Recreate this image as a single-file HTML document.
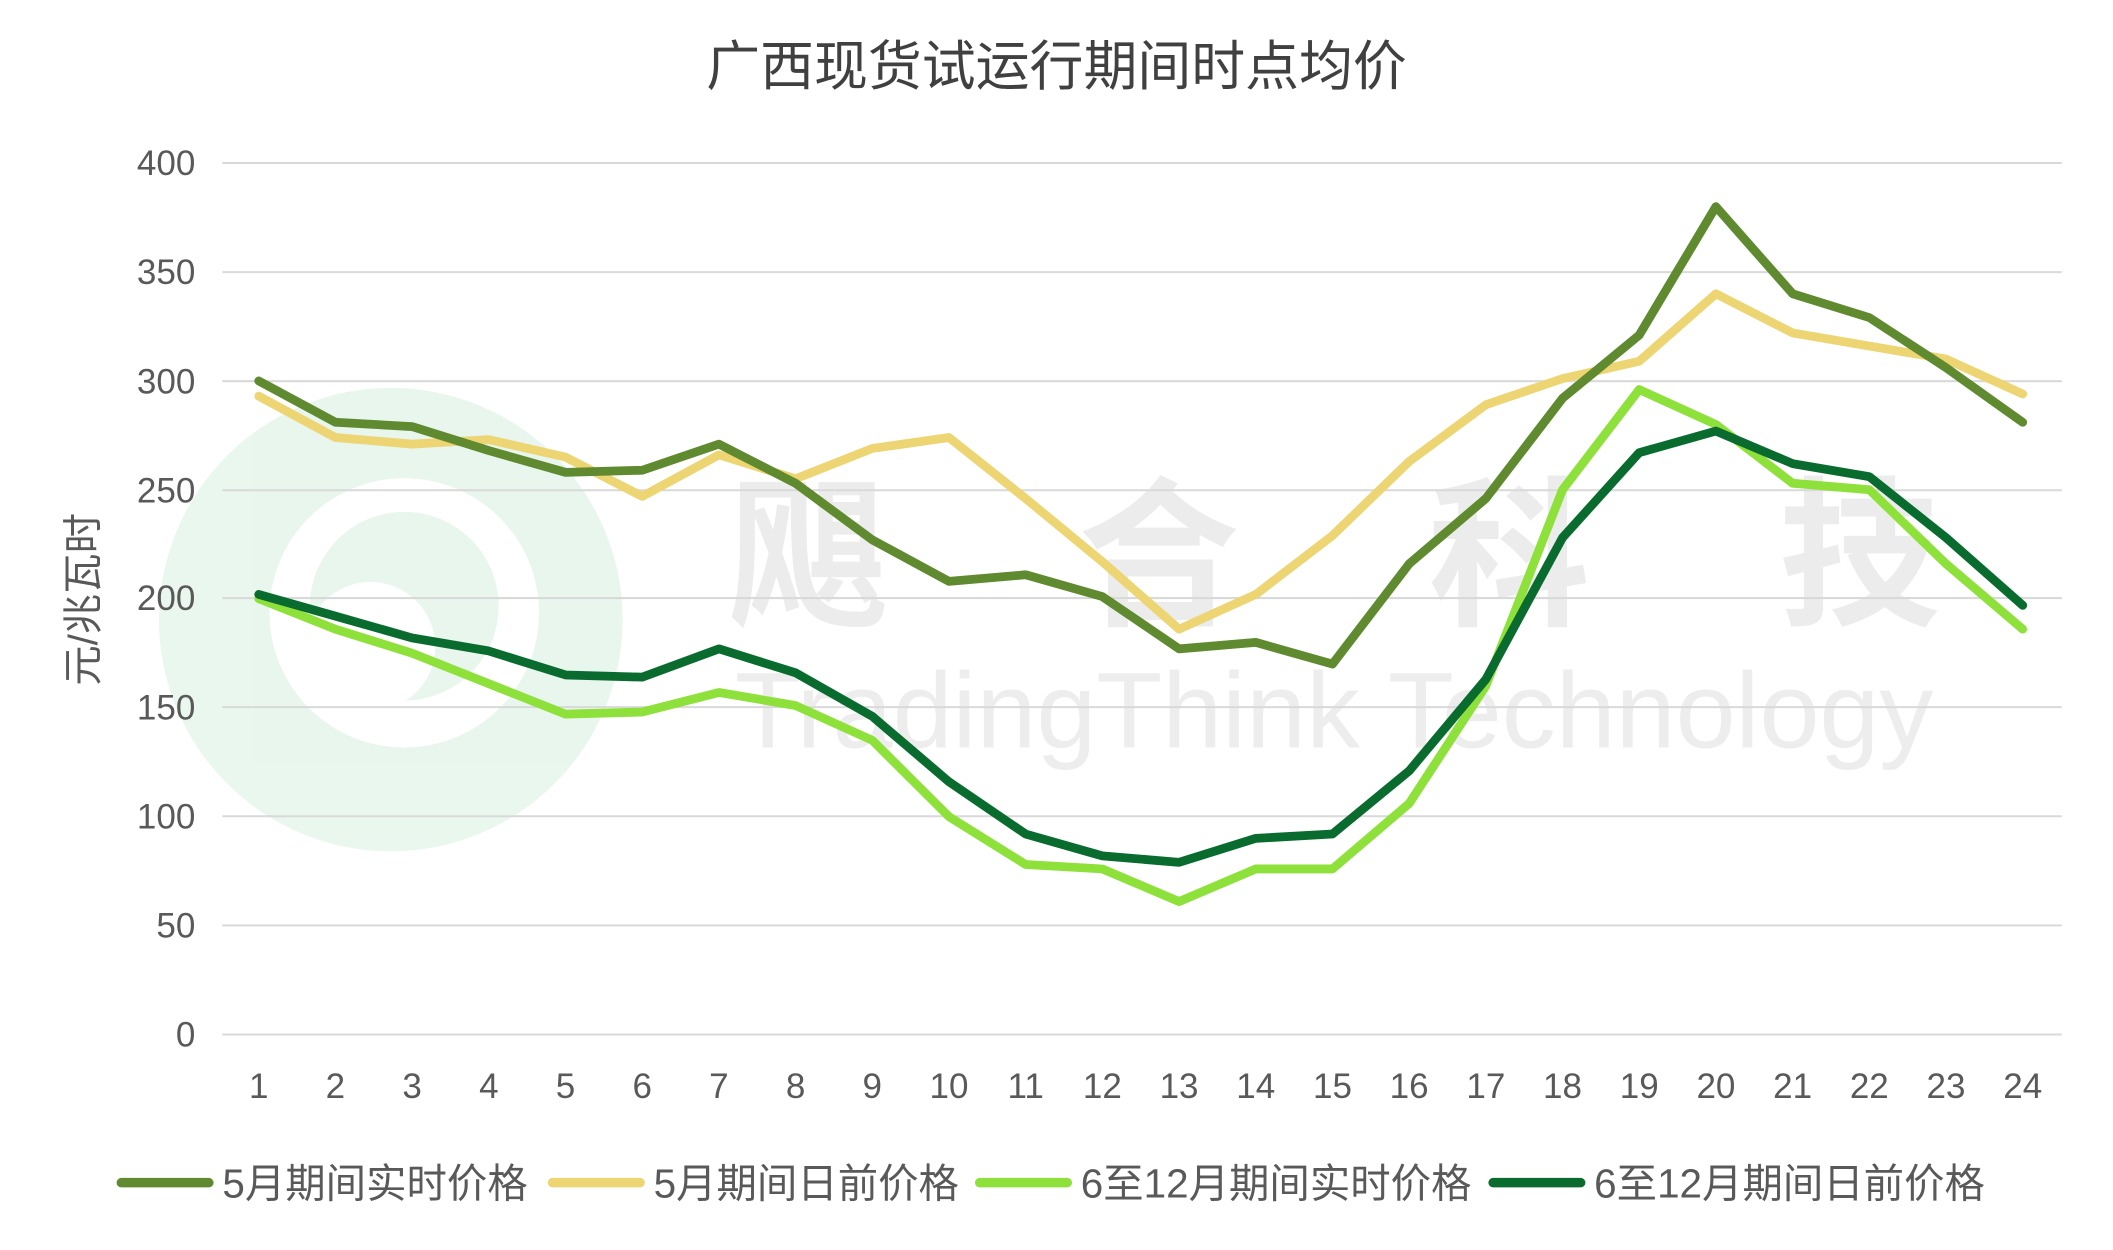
<!DOCTYPE html>
<html><head><meta charset="utf-8"><style>
html,body{margin:0;padding:0;background:#fff;}
svg{display:block;}
text{font-family:"Liberation Sans","Noto Sans CJK SC",sans-serif;}
</style></head><body>
<svg width="2113" height="1250" viewBox="0 0 1568 928" preserveAspectRatio="none" xmlns="http://www.w3.org/2000/svg">
<rect width="1568" height="928" fill="#fff"/>
<!-- watermark -->
<g opacity="0.4">
<circle cx="290" cy="460" r="172" fill="#c8ead6"/>
<circle cx="300" cy="455" r="100" fill="#fff"/>
<circle cx="300" cy="450" r="70" fill="#c8ead6"/>
<circle cx="275" cy="480" r="48" fill="#fff"/>
</g>
<text x="1060" y="455" font-size="120" font-weight="bold" fill="#ececec" text-anchor="middle" letter-spacing="140">飓合科技</text>
<text x="990" y="555" font-size="80" fill="#ededed" text-anchor="middle">TradingThink Technology</text>
<text x="784" y="63" font-size="40" fill="#404040" text-anchor="middle">广西现货试运行期间时点均价</text>
<g stroke="#d9d9d9" stroke-width="1.5">
<line x1="165" x2="1530" y1="121" y2="121"/><line x1="165" x2="1530" y1="202" y2="202"/>
<line x1="165" x2="1530" y1="283" y2="283"/><line x1="165" x2="1530" y1="364" y2="364"/>
<line x1="165" x2="1530" y1="444" y2="444"/><line x1="165" x2="1530" y1="525" y2="525"/>
<line x1="165" x2="1530" y1="606" y2="606"/><line x1="165" x2="1530" y1="687" y2="687"/>
<line x1="165" x2="1530" y1="768" y2="768"/>
</g>
<g font-size="26" fill="#595959" text-anchor="end">
<text x="145" y="130">400</text><text x="145" y="211">350</text><text x="145" y="292">300</text>
<text x="145" y="373">250</text><text x="145" y="453">200</text><text x="145" y="534">150</text>
<text x="145" y="615">100</text><text x="145" y="696">50</text><text x="145" y="777">0</text>
</g>
<text transform="translate(72,445) rotate(-90)" font-size="30" fill="#595959" text-anchor="middle">元/兆瓦时</text>
<g id="xl" font-size="26" fill="#595959" text-anchor="middle"></g>
<g id="lines" fill="none" stroke-width="6.5" stroke-linejoin="round" stroke-linecap="round"></g>
<g font-size="30" fill="#595959">
<line x1="90" x2="155" y1="878" y2="878" stroke="#5f8a30" stroke-width="7" stroke-linecap="round"/>
<text x="165" y="889">5月期间实时价格</text>
<line x1="410" x2="475" y1="878" y2="878" stroke="#ecd572" stroke-width="7" stroke-linecap="round"/>
<text x="485" y="889">5月期间日前价格</text>
<line x1="727" x2="792" y1="878" y2="878" stroke="#8ee03a" stroke-width="7" stroke-linecap="round"/>
<text x="802" y="889">6至12月期间实时价格</text>
<line x1="1108" x2="1173" y1="878" y2="878" stroke="#0a6b2e" stroke-width="7" stroke-linecap="round"/>
<text x="1183" y="889">6至12月期间日前价格</text>
</g>
<script>
var ns="http://www.w3.org/2000/svg";
function X(i){return 192+i*(1501-192)/23;}
function Y(v){return 768-v*1.6175;}
var xl=document.getElementById('xl');
for(var i=0;i<24;i++){var t=document.createElementNS(ns,'text');t.setAttribute('x',X(i));t.setAttribute('y',815);t.textContent=i+1;xl.appendChild(t);}
var S=[
["#ecd572",[293,274,271,273,265,247,266,255,269,274,246,217,186,202,229,263,289,301,309,340,322,316,310,294]],
["#5f8a30",[300,281,279,268,258,259,271,253,227,208,211,201,177,180,170,216,246,292,321,380,340,329,306,281]],
["#8ee03a",[200,186,175,161,147,148,157,151,135,100,78,76,61,76,76,106,160,250,296,280,253,250,216,186]],
["#0a6b2e",[202,192,182,176,165,164,177,166,146,116,92,82,79,90,92,121,163,228,267,277,262,256,228,197]]];
var g=document.getElementById('lines');
S.forEach(function(s){var p=document.createElementNS(ns,'polyline');p.setAttribute('stroke',s[0]);
p.setAttribute('points',s[1].map(function(v,i){return X(i).toFixed(1)+','+Y(v).toFixed(1);}).join(' '));g.appendChild(p);});
</script>
</svg>
</body></html>
